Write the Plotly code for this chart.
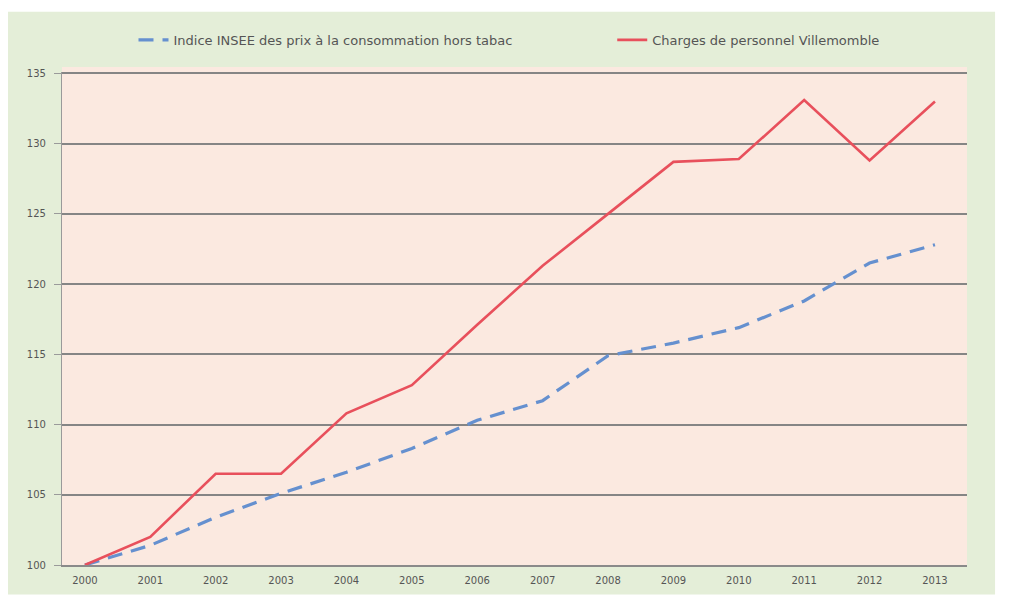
import plotly.graph_objects as go

years = [2000, 2001, 2002, 2003, 2004, 2005, 2006, 2007, 2008, 2009, 2010, 2011, 2012, 2013]
year_labels = [str(y) for y in years]
insee_index = [100.0, 101.4, 103.4, 105.1, 106.6, 108.3, 110.3, 111.7, 114.9, 115.8, 116.9, 118.8, 121.5, 122.8]
charges_personnel = [100.0, 102.0, 106.5, 106.5, 110.8, 112.8, 117.1, 121.3, 125.0, 128.7, 128.9, 133.1, 128.8, 133.0]
y_ticks = [100, 105, 110, 115, 120, 125, 130, 135]
series_names = ["Indice INSEE des prix à la consommation hors tabac", "Charges de personnel Villemomble"]

fig = go.Figure()
fig.add_trace(go.Scatter(
    x=years, y=insee_index, mode="lines", name=series_names[0],
    line=dict(color="#6590cf", width=3.2, dash="15px,9px"), legend="legend",
))
fig.add_trace(go.Scatter(
    x=years, y=charges_personnel, mode="lines", name=series_names[1],
    line=dict(color="#e8505c", width=2.6), legend="legend2",
))

# green frame of the scanned chart, then the peach plot area
fig.add_shape(type="rect", xref="paper", yref="paper",
              x0=-0.061, x1=1.031, y0=-0.06, y1=1.122,
              fillcolor="#e4eed8", line=dict(width=0), layer="below")
fig.add_shape(type="rect", xref="paper", yref="paper",
              x0=0, x1=1, y0=0, y1=1.01,
              fillcolor="#fbe9e0", line=dict(width=0), layer="below")

legend_common = dict(
    orientation="h", yanchor="middle", xanchor="left", y=1.065,
    bgcolor="rgba(0,0,0,0)", font=dict(size=13, color="#555555"), itemwidth=30,
)

fig.update_layout(
    width=1014, height=595,
    margin=dict(l=54, r=55, t=64, b=38),
    paper_bgcolor="white",
    plot_bgcolor="rgba(0,0,0,0)",
    font=dict(family="DejaVu Sans", color="#555555", size=9),
    showlegend=True,
    legend=dict(x=0.079, **legend_common),
    legend2=dict(x=0.608, **legend_common),
    xaxis=dict(
        range=[1999.65, 2013.49], tickvals=years, ticktext=year_labels,
        showgrid=False, zeroline=False, showline=True, linecolor="#8a8a8a", linewidth=1.5,
        ticks="", ticklabelstandoff=5, tickfont=dict(size=10, color="#555555"),
    ),
    yaxis=dict(
        range=[100, 135.1], tickvals=y_ticks,
        showgrid=True, gridcolor="#858585", gridwidth=1.5, zeroline=False,
        showline=True, linecolor="#9a9a9a", linewidth=1.2,
        ticks="outside", ticklen=7, tickcolor="#9a9a9a", ticklabelstandoff=6,
        tickfont=dict(size=10, color="#555555"),
    ),
)

fig.write_html("out.html")
